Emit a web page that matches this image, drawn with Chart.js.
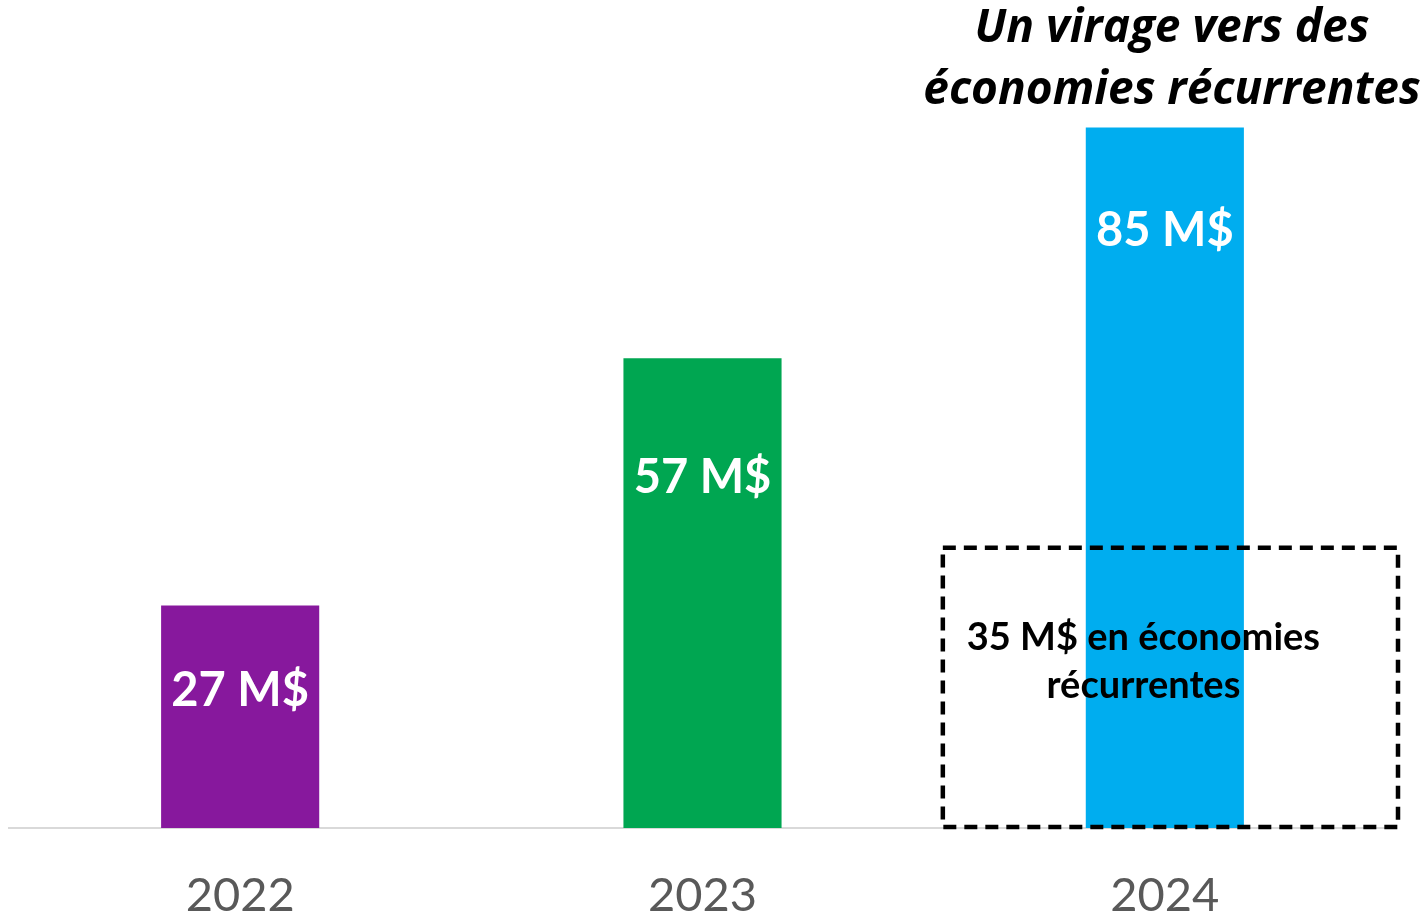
<!DOCTYPE html>
<html>
<head>
<meta charset="utf-8">
<script src="https://cdn.jsdelivr.net/npm/chart.js@4.4.1/dist/chart.umd.min.js"></script>
<style>
  html, body { margin: 0; padding: 0; background: #fff; }
  #wrap { width: 1427px; height: 919px; position: relative; }
</style>
</head>
<body>
<div id="wrap"><canvas id="chart-savings"></canvas></div>
<script>
// Économies par année (M$)
const years = ["2022", "2023", "2024"];
const savings = [27, 57, 85];
const barColors = ["#87189d", "#00a651", "#00adef"];
// hauteur (en M$) où chaque étiquette est posée dans sa barre
const labelAt = [16.6, 42.5, 72.5];
const recurring = 34;
const recurringLines = ["35 M$ en économies", "récurrentes"];
const titleLines = ["Un virage vers des", "économies récurrentes"];

const FONT = "Lato, 'Open Sans', sans-serif";

const overlay = {
  id: "overlay",
  afterDatasetsDraw(chart) {
    const { ctx, scales: { x, y }, chartArea } = chart;
    ctx.save();

    // étiquettes blanches dans les barres
    ctx.fillStyle = "#fff";
    ctx.font = `bold 47px ${FONT}`;
    ctx.textAlign = "center";
    ctx.textBaseline = "middle";
    savings.forEach((v, i) => {
      ctx.fillText(`${v} M$`, x.getPixelForValue(i), y.getPixelForValue(labelAt[i]));
    });

    // cadre pointillé : économies récurrentes
    const cx = x.getPixelForValue(2);
    const left = cx - 222, right = chartArea.right + 2;
    const top = y.getPixelForValue(recurring), bottom = y.getPixelForValue(0) - 1;
    ctx.strokeStyle = "#000";
    ctx.lineWidth = 4.5;
    ctx.setLineDash([13, 8]);
    ctx.strokeRect(left, top, right - left, bottom - top);
    ctx.setLineDash([]);

    ctx.fillStyle = "#000";
    ctx.font = `bold 38px ${FONT}`;
    const tx = (left + right) / 2 - 27;
    ctx.fillText(recurringLines[0], tx, top + 90);
    ctx.fillText(recurringLines[1], tx, top + 138);

    // titre
    ctx.font = `italic bold 46px 'Open Sans', ${FONT}`;
    ctx.fillText(titleLines[0], 1172, 29);
    ctx.fillText(titleLines[1], 1172, 91);
    ctx.restore();
  },
};

new Chart(document.getElementById("chart-savings"), {
  type: "bar",
  data: {
    labels: years,
    datasets: [{
      data: savings,
      backgroundColor: barColors,
      borderWidth: 0,
      categoryPercentage: 1,
      barPercentage: 0.342,
    }],
  },
  options: {
    responsive: true,
    maintainAspectRatio: false,
    animation: false,
    layout: { padding: { left: 9, right: 31, top: 4, bottom: -44 } },
    plugins: { legend: { display: false }, tooltip: { enabled: false } },
    scales: {
      x: {
        grid: { display: false, drawTicks: false },
        border: { display: true, color: "#d9d9d9", width: 2 },
        ticks: { color: "#595959", font: { family: FONT, size: 47, lineHeight: 1 }, padding: 44 },
      },
      y: { display: false, min: 0, max: 100 },
    },
  },
  plugins: [overlay],
});
</script>
</body>
</html>
